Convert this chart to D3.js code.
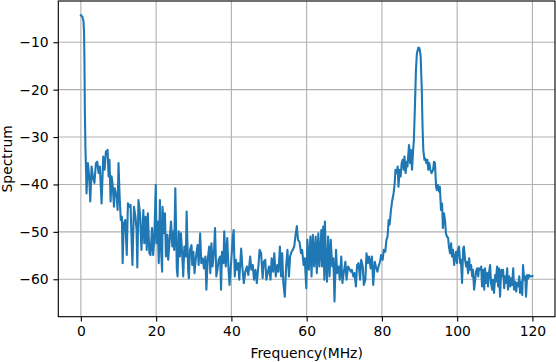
<!DOCTYPE html>
<html>
<head>
<meta charset="utf-8">
<script src="https://cdn.jsdelivr.net/npm/d3@7"></script>
<style>
  html, body { margin: 0; padding: 0; background: #fff; }
  svg { display: block; font-family: 'DejaVu Sans', sans-serif; }
</style>
</head>
<body>
<svg id="chart" width="556" height="362"></svg>
<script>
// spectrum: [frequency MHz, level]
const spectrum = [
  [0,-4.3],[0.4,-4.6],[0.7,-5.6],[0.85,-8],[0.95,-14],[1.05,-24],[1.2,-32],[1.4,-38],[1.5,-41.9],
  [1.86,-35.5],[2.2,-38.3],[2.5,-43.6],[2.84,-36.2],[3.3,-39.0],[3.6,-39.7],[4.0,-35.5],[4.35,-35.2],[4.7,-37.6],[5.05,-36.2],
  [5.5,-44],[5.94,-34.1],[6.3,-36.9],[6.65,-33.1],[7.1,-32.7],[7.36,-38.3],[7.6,-34.8],[7.9,-43.6],[8.16,-38.3],[8.4,-39.7],
  [8.8,-44.7],[9.0,-40.8],[9.5,-42.6],[9.76,-45.4],[10.0,-35.5],[10.3,-42.6],[10.6,-47.5],[10.9,-46.8],[11.1,-56.6],[11.4,-48.2],
  [11.8,-47.5],[12.2,-54.9],[12.5,-44],[12.9,-44.7],[13.2,-44.3],[13.4,-49.6],[13.7,-57],[14.1,-44.7],[14.5,-46.8],[14.8,-49.6],
  [15.0,-57.5],[15.3,-43.3],[15.7,-46],[16.1,-53.8],[16.6,-45.4],[16.85,-52.4],[17.2,-46.8],[17.5,-53.8],[17.8,-46.1],[18.2,-54.5],
  [18.5,-54.9],[18.9,-49.2],[19.2,-54.9],[19.5,-51.7],[19.9,-40.1],[20.1,-52.4],[20.4,-47.8],[20.7,-56.6],[21.0,-43.3],[21.3,-53.8],
  [21.6,-58.4],[21.7,-44.7],[22.1,-50.3],[22.35,-46.1],[22.6,-55.2],[23.0,-50.6],[23.2,-55.9],[23.6,-51.7],[23.95,-47.8],[24.3,-53.1],
  [24.6,-49.9],[24.8,-53.8],[25.1,-40.8],[25.5,-58.0],[25.7,-59.4],[26.0,-49.9],[26.3,-55.2],[26.6,-50.3],[27.0,-55.9],[27.2,-59.4],
  [27.5,-53.1],[27.9,-55.2],[28.1,-45.7],[28.5,-58.0],[28.7,-59.8],[29.0,-53.8],[29.4,-52.8],[29.6,-57.0],[29.9,-54.2],[30.2,-58.7],
  [30.6,-55.2],[31.0,-52.8],[31.3,-57.0],[31.7,-50.3],[32.0,-56.6],[32.4,-55.6],[32.7,-57.7],[33.1,-55.2],[33.35,-62.2],[33.7,-55.9],
  [34.1,-53.1],[34.4,-58.7],[34.7,-52.4],[35.0,-57.3],[35.4,-53.8],[35.65,-49.2],[36.0,-59.4],[36.3,-58.0],[36.6,-55.9],[37.0,-55.2],
  [37.25,-62.2],[37.5,-54.2],[37.9,-56.6],[38.1,-49.9],[38.5,-57.3],[38.9,-51.3],[39.2,-57.3],[39.5,-61.2],
  [40.0,-55.6],[40.4,-51],[40.6,-49.6],[40.9,-59.4],[41.2,-55.9],[41.4,-58.0],[41.8,-56.6],[42.1,-60.1],[42.6,-53.5],[42.9,-57.3],
  [43.3,-60.8],[43.7,-58.4],[44.1,-57.3],[44.5,-59.1],[45.0,-55.2],[45.3,-58.0],[45.7,-57.0],[46.0,-60.1],[46.4,-58.0],[46.75,-60.8],
  [47.2,-57.0],[47.5,-53.8],[47.9,-54.5],[48.3,-59.8],[48.6,-56.3],[49.0,-55.9],[49.3,-60.1],[49.7,-58.4],[50.0,-57.3],[50.4,-60.1],
  [50.7,-55.6],[51.1,-58.4],[51.4,-54.5],[51.8,-59.4],[52.2,-57.0],[52.5,-58.4],[52.9,-53.1],[53.2,-59.4],[53.5,-54.5],[53.8,-60.8],
  [54.2,-63.7],[54.55,-57.3],[54.9,-53.8],[55.3,-59.4],[55.6,-55.2],[56.0,-54.2],[56.3,-53.8],[56.7,-53.1],[57.0,-51],[57.4,-48.8],
  [57.7,-51.7],[58.1,-52.1],[58.5,-54.5],[58.8,-53.8],[59.2,-57.0],[59.5,-55.6],[59.9,-61.9],[60.2,-51.7],[60.6,-58.0],[61.0,-51.0],
  [61.3,-59.4],[61.65,-50.6],[62.0,-57.3],[62.4,-51],[62.7,-58.7],[63.1,-50.3],[63.4,-57.3],
  [63.9,-49.6],[64.1,-57.3],[64.4,-48.9],[64.7,-60.1],[64.85,-47.8],[65.1,-55.2],[65.4,-60.5],[65.7,-51],[66.1,-59.4],[66.4,-51.7],
  [66.8,-57.3],[67.1,-55.6],[67.4,-64.7],[67.8,-53.8],[68.1,-58.7],[68.5,-57.3],[68.8,-60.1],[69.2,-55.2],[69.5,-60.8],[69.9,-58.4],
  [70.3,-56.3],[70.6,-60.1],[71.0,-57.3],[71.3,-57.7],[71.7,-58.4],[72.0,-58.0],[72.4,-59.4],[72.7,-58.7],[73.1,-61.5],[73.4,-57.0],
  [73.8,-56.6],[74.2,-60.1],[74.5,-55.9],[74.9,-57.3],[75.2,-61.2],[75.6,-60.1],[75.9,-54.5],[76.3,-56.6],[76.6,-55.2],[77.0,-57.7],
  [77.35,-55.2],[77.7,-61.2],[78.1,-56.3],[78.4,-57.3],[78.8,-58.4],[79.1,-57.3],[79.5,-56.3],[79.8,-54.9],[80.2,-55.9],[80.5,-53.8],
  [80.9,-54.2],[81.2,-51.7],[81.5,-51],[81.8,-47.5],[82.05,-48.5],
  [82.4,-45.4],[82.7,-43.6],[83.1,-41.9],[83.4,-39.7],[83.6,-36.9],[83.9,-37.6],[84.2,-36.2],[84.4,-40.5],[84.7,-36.9],[85.0,-38.3],
  [85.25,-35.5],[85.5,-34.8],[85.8,-36.9],[86.0,-34.1],[86.3,-37.6],[86.6,-35.2],[86.8,-36.2],[87.2,-31.7],[87.5,-35.5],[87.7,-32.7],
  [88.0,-36.9],[88.25,-33.4],[88.5,-30.6],[88.8,-22.9],[89.05,-15.8],[89.3,-12.3],[89.7,-11.1],[90.0,-11.3],[90.3,-13.0],[90.6,-20.1],
  [90.8,-27.8],[91.0,-32.7],[91.3,-34.8],[91.5,-34.5],[91.8,-35.5],[92.1,-34.8],[92.3,-36.9],[92.6,-35.5],
  [92.87,-36.9],[93.2,-37.6],[93.6,-36.9],[93.85,-35.2],[94.1,-35.5],[94.4,-40.5],[94.6,-41.2],[94.9,-40.1],[95.2,-41.5],[95.4,-40.5],
  [95.7,-45.4],[96.0,-44],[96.2,-49.2],[96.5,-46.1],[96.8,-47.8],[97.0,-50.3],[97.3,-51],[97.6,-51.3],[97.8,-53.1],[98.1,-54.5],
  [98.4,-52.4],[98.6,-55.2],[98.9,-53.8],[99.2,-57],[99.4,-55.6],[99.7,-54.2],[99.97,-56.6],[100.2,-53.8],[100.5,-53.1],[100.8,-56.6],
  [101.0,-55.9],[101.3,-60.8],[101.6,-53.5],[101.8,-53.1],[102.1,-55.9],[102.4,-57.3],[102.6,-56.3],[102.9,-58.7],[103.2,-55.6],[103.4,-58],
  [103.7,-57],[104.0,-59.4],[104.2,-58],[104.5,-62.2],[104.8,-60.1],[105.0,-58.4],[105.3,-57.7],[105.6,-59.4],[105.8,-57.7],[106.1,-58],
  [106.4,-57.3],[106.6,-61.5],[106.9,-58],[107.2,-62.2],[107.4,-57.7],[107.7,-60.8],[108.0,-58.7],[108.2,-61.5],[108.5,-58.4],[108.75,-57],
  [109.0,-60.8],[109.3,-62.2],[109.5,-60.1],[109.8,-62.9],[110.1,-59.1],[110.3,-60.5],[110.6,-57.3],[110.9,-61.5],[111.1,-57.7],[111.4,-63.7],
  [111.7,-58],[111.9,-59.4],[112.2,-58],[112.5,-61.9],[112.7,-59.4],[113.0,-60.8],[113.3,-57.7],[113.5,-62.2],[113.8,-59.4],[114.1,-61.5],
  [114.3,-59.8],[114.6,-61.2],[114.9,-57.7],[115.1,-62.2],[115.4,-60.5],[115.7,-62.6],[115.9,-60.8],[116.2,-61.5],[116.5,-59.4],[116.7,-62.9],
  [117.0,-60.5],[117.3,-63.3],[117.5,-57],[117.8,-60.1],[118.1,-59.4],[118.3,-63.7],[118.6,-59.1],[118.9,-59.8],[119.1,-59.1],[119.4,-59.4],
  [119.75,-59.4],[120.0,-59.3]
];

const xTicks = [0, 20, 40, 60, 80, 100, 120];
const yTicks = [-60, -50, -40, -30, -20, -10];
const xDomain = [-6, 126];
const yDomain = [-67.9, -1.3];

const plot = { left: 58.3, right: 555, top: 1, bottom: 316.7 };
const pt = 100 / 72; // points to pixels at 100 dpi

const svg = d3.select('#chart');

let x = d3.scaleLinear().domain(xDomain).range([plot.left, plot.right]);
let y = d3.scaleLinear().domain(yDomain).range([plot.bottom, plot.top]);

const minus = (v) => String(v).replace('-', '\u2212');

// grid
svg.append('g')
  .selectAll('line')
  .data(xTicks)
  .join('line')
  .attr('x1', (d) => x(d)).attr('x2', (d) => x(d))
  .attr('y1', plot.top).attr('y2', plot.bottom)
  .attr('stroke', '#b0b0b0').attr('stroke-width', 0.8 * pt);

svg.append('g')
  .selectAll('line')
  .data(yTicks)
  .join('line')
  .attr('x1', plot.left).attr('x2', plot.right)
  .attr('y1', (d) => y(d)).attr('y2', (d) => y(d))
  .attr('stroke', '#b0b0b0').attr('stroke-width', 0.8 * pt);

// the spectrum line
let line = d3.line()
  .x((d) => x(d[0]))
  .y((d) => y(d[1]));

svg.append('path')
  .datum(spectrum)
  .attr('d', line)
  .attr('fill', 'none')
  .attr('stroke', '#1f77b4')
  .attr('stroke-width', 1.5 * pt)
  .attr('stroke-linejoin', 'round')
  .attr('stroke-linecap', 'square');

// axes
let xAxis = d3.axisBottom(x).tickValues(xTicks).tickSize(3.5 * pt).tickPadding(3.5 * pt).tickFormat(minus);
let yAxis = d3.axisLeft(y).tickValues(yTicks).tickSize(3.5 * pt).tickPadding(3.5 * pt).tickFormat(minus);

const gx = svg.append('g').attr('transform', `translate(0,${plot.bottom})`).call(xAxis);
const gy = svg.append('g').attr('transform', `translate(${plot.left},0)`).call(yAxis);

[gx, gy].forEach((g) => {
  g.select('.domain').remove();
  g.selectAll('line').attr('stroke', '#000').attr('stroke-width', 0.8 * pt);
  g.selectAll('text')
    .attr('fill', '#000')
    .style('font-family', "'DejaVu Sans', sans-serif")
    .style('font-size', '13.9px');
});

// frame
svg.append('rect')
  .attr('x', plot.left).attr('y', plot.top)
  .attr('width', plot.right - plot.left).attr('height', plot.bottom - plot.top)
  .attr('fill', 'none').attr('stroke', '#000').attr('stroke-width', 0.8 * pt);

// labels
svg.append('text')
  .attr('x', (plot.left + plot.right) / 2)
  .attr('y', 358)
  .attr('text-anchor', 'middle')
  .style('font-size', '13.9px')
  .text('Frequency(MHz)');

svg.append('text')
  .attr('transform', `translate(12,${(plot.top + plot.bottom) / 2}) rotate(-90)`)
  .attr('text-anchor', 'middle')
  .style('font-size', '13.9px')
  .text('Spectrum');
</script>
</body>
</html>
